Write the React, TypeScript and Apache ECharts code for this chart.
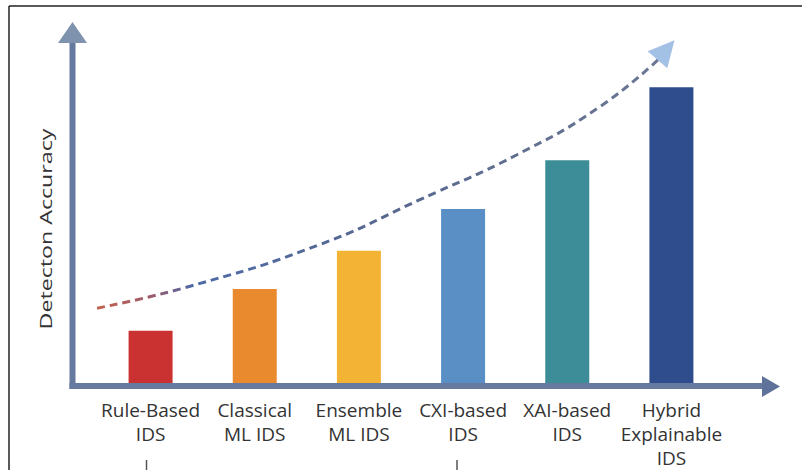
import React, { useEffect, useRef } from "react";
import * as echarts from "echarts";

const categories = [
  "Rule-Based\nIDS",
  "Classical\nML IDS",
  "Ensemble\nML IDS",
  "CXI-based\nIDS",
  "XAI-based\nIDS",
  "Hybrid\nExplainable\nIDS",
];
const accuracy = [15, 27, 38, 50, 64, 85];
const barColors = ["#c93230", "#e98a2f", "#f3b335", "#5a8fc6", "#3c8d97", "#2f4c8c"];
// trend curve, in axis units (x: category position, y: accuracy scale)
const trendX = [-0.514, 0.378, 1.626, 2.586, 3.517, 4.314, 4.89];
const trendY = [21.5, 27.8, 39.8, 52.7, 65.6, 79.4, 93.4];
const arrowPoint = [4.948, 95.7];
const yAxisTitle = "Detecton Accuracy";

export default function App() {
  const ref = useRef<HTMLDivElement>(null);
  useEffect(() => {
    if (!ref.current) return;
    const chart = echarts.init(ref.current, null, { renderer: "svg" });
    const axisColor = "#66799f";
    const option: any = {
      animation: false,
      backgroundColor: "#ffffff",
      grid: { left: 98.5, right: 78.5, top: 35, bottom: 86 },
      xAxis: [
        {
          type: "category",
          data: categories,
          boundaryGap: true,
          axisLine: { show: false },
          axisTick: { show: false },
          axisLabel: {
            interval: 0,
            margin: 15,
            fontFamily: "Open Sans",
            fontSize: 19,
            lineHeight: 24,
            color: "#333333",
            align: "center",
          },
        },
        { type: "value", min: -0.5, max: 5.5, show: false },
      ],
      yAxis: { type: "value", min: 0, max: 100, show: false },
      series: [
        {
          type: "bar",
          xAxisIndex: 0,
          barWidth: 44,
          data: accuracy.map((v, i) => ({ value: v, itemStyle: { color: barColors[i] } })),
          z: 2,
        },
        {
          type: "line",
          xAxisIndex: 1,
          smooth: true,
          clip: false,
          symbol: "none",
          data: trendX.map((x, i) => [x, trendY[i]]),
          lineStyle: {
            width: 3,
            type: [8, 5],
            color: new echarts.graphic.LinearGradient(0, 0, 1, 0, [
              { offset: 0, color: "#c4614f" },
              { offset: 0.1, color: "#9a5a6c" },
              { offset: 0.17, color: "#4d6aa6" },
              { offset: 0.5, color: "#56678f" },
              { offset: 1, color: "#6b7793" },
            ]),
          },
          z: 3,
        },
        {
          type: "scatter",
          xAxisIndex: 1,
          clip: false,
          symbol: "triangle",
          symbolSize: [26, 26],
          symbolRotate: -41,
          itemStyle: { color: "#8cb0df" },
          data: [arrowPoint],
          z: 4,
        },
      ],
      graphic: [
        // frame
        { type: "line", shape: { x1: 9, y1: 6, x2: 802, y2: 6 }, style: { stroke: "#222", lineWidth: 1.5 }, z: 10 },
        { type: "line", shape: { x1: 9, y1: 6, x2: 9, y2: 470 }, style: { stroke: "#222", lineWidth: 1.5 }, z: 10 },
        // y axis arrow
        { type: "line", shape: { x1: 72.5, y1: 389, x2: 72.5, y2: 42 }, style: { stroke: axisColor, lineWidth: 6 }, z: 10 },
        { type: "polygon", shape: { points: [[58, 43], [87, 43], [72.5, 22]] }, style: { fill: "#8093ae" }, z: 10 },
        // x axis arrow
        { type: "line", shape: { x1: 69.5, y1: 386, x2: 763, y2: 386 }, style: { stroke: axisColor, lineWidth: 6 }, z: 10 },
        { type: "polygon", shape: { points: [[762, 376], [762, 397], [780, 386.5]] }, style: { fill: "#5f729a" }, z: 10 },
        // y title
        {
          type: "text",
          x: 46,
          y: 229,
          rotation: Math.PI / 2,
          scaleX: 1.45,
          style: {
            text: yAxisTitle,
            fontFamily: "Open Sans",
            fontSize: 16,
            fill: "#333333",
            align: "center",
            verticalAlign: "middle",
          },
          z: 10,
        },
        // small marks below labels
        { type: "line", shape: { x1: 146.5, y1: 460, x2: 146.5, y2: 470 }, style: { stroke: "#555", lineWidth: 1.5 }, z: 10 },
        { type: "line", shape: { x1: 457, y1: 460, x2: 457, y2: 470 }, style: { stroke: "#555", lineWidth: 1.5 }, z: 10 },
      ],
    };
    chart.setOption(option);
    return () => chart.dispose();
  }, []);
  return (
    <div
      ref={ref}
      style={{ position: "fixed", left: 0, top: 0, width: 802, height: 470 }}
    />
  );
}
